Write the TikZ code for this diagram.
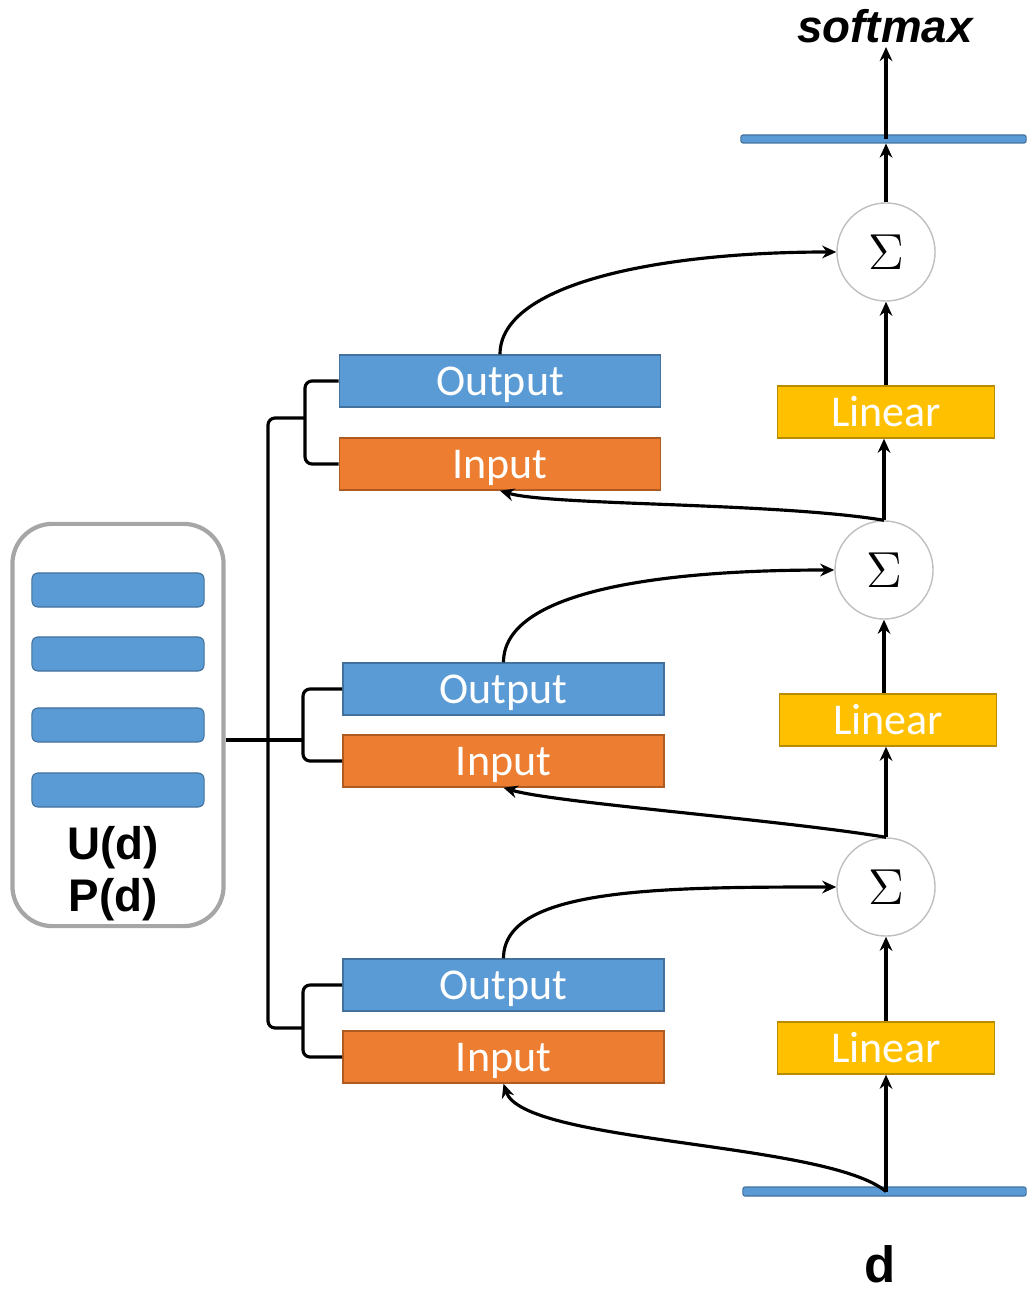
\documentclass[tikz,border=0pt]{standalone}
\usepackage{fontspec}
\setmainfont{Liberation Sans}
\newfontfamily\boxfont{Carlito}
\usetikzlibrary{arrows.meta, positioning}

\definecolor{hopblue}{HTML}{5B9BD5}
\definecolor{hopblueedge}{HTML}{41719C}
\definecolor{hoporange}{HTML}{ED7D31}
\definecolor{hoporangeedge}{HTML}{AE5A21}
\definecolor{hopgold}{HTML}{FFC000}
\definecolor{hopgoldedge}{HTML}{BC8C00}
\definecolor{memgray}{HTML}{A6A6A6}

\tikzset{
  layerbox/.style = {
    minimum width=3.21cm, minimum height=0.52cm, inner sep=0pt,
    text height=0.30cm, text depth=0.02cm,
    text=white, font=\boxfont\fontsize{12.5}{14}\selectfont
  },
  outbox/.style = {layerbox, draw=hopblueedge, fill=hopblue},
  inbox/.style = {layerbox, draw=hoporangeedge, fill=hoporange},
  linbox/.style = {layerbox, minimum width=2.17cm, draw=hopgoldedge, fill=hopgold},
  sumnode/.style = {circle, draw=black!25, minimum size=0.98cm, inner sep=0pt,
    font=\fontsize{14}{16}\selectfont},
  vecbar/.style = {draw=hopblueedge, fill=hopblue, rounded corners=0.02cm,
    minimum height=0.08cm, inner sep=0pt, line width=0.3pt},
  memslot/.style = {draw=hopblueedge, fill=hopblue, rounded corners=0.06cm,
    minimum width=1.72cm, minimum height=0.34cm, inner sep=0pt, line width=0.3pt},
  flow/.style = {-{Stealth[length=4pt, width=3.6pt]}, line width=0.9pt},
  wire/.style = {line width=0.9pt, rounded corners=2pt},
  biglabel/.style = {font=\bfseries\fontsize{13}{15}\selectfont, inner sep=1pt}
}

\begin{document}
\begin{tikzpicture}[x=0.01cm, y=0.01cm]
  \useasboundingbox (0,0) rectangle (1026,-1289);

  % Memory
  \node[draw=memgray, line width=1.2pt, rounded corners=0.4cm,
        minimum width=2.11cm, minimum height=4.02cm] (mem) at (118,-725) {};
  \node[memslot] (slot1) at (118,-590) {};
  \node[memslot] (slot2) at (118,-654) {};
  \node[memslot] (slot3) at (118,-725) {};
  \node[memslot] (slot4) at (118,-790) {};
  \node[biglabel, align=center, font=\bfseries\fontsize{13}{14.8}\selectfont]
    (memlabel) at (113,-874) {U(d)\\P(d)};

  % Hop 1 (top)
  \node[outbox] (out1) at (500,-381) {Output};
  \node[inbox] (in1) at (500,-464) {Input};
  \node[linbox] (lin1) at (886,-412) {Linear};
  \node[sumnode] (sig1) at (886,-252) {$\Sigma$};

  % Hop 2
  \node[outbox] (out2) at (503.5,-689) {Output};
  \node[inbox] (in2) at (503.5,-761) {Input};
  \node[linbox] (lin2) at (888,-720) {Linear};
  \node[sumnode] (sig2) at (884,-570) {$\Sigma$};

  % Hop 3 (bottom)
  \node[outbox] (out3) at (503.5,-985) {Output};
  \node[inbox] (in3) at (503.5,-1057) {Input};
  \node[linbox] (lin3) at (886,-1048) {Linear};
  \node[sumnode] (sig3) at (886,-887) {$\Sigma$};

  % Question and answer vectors
  \node[vecbar, minimum width=2.85cm] (topbar) at (883.5,-139) {};
  \node[vecbar, minimum width=2.83cm, minimum height=0.09cm] (botbar) at (884.5,-1191.5) {};
  \node[biglabel, font=\bfseries\itshape\fontsize{13}{15}\selectfont] (softmax) at (885,-26) {softmax};
  \node[biglabel, inner sep=0pt, font=\bfseries\fontsize{14.5}{16}\selectfont] (qlabel) at (880,-1264) {d};

  % Memory to the hops
  \coordinate (br1) at (305,-418);
  \coordinate (br2) at (303,-740);
  \coordinate (br3) at (303,-1028);
  \coordinate (trunktop) at (268,-418);
  \coordinate (trunkbot) at (268,-1028);
  \draw[wire] (out1.west) -| (br1) |- (in1.west);
  \draw[wire] (out2.west) -| (br2) |- (in2.west);
  \draw[wire] (out3.west) -| (br3) |- (in3.west);
  \draw[wire] (br1) -- (trunktop) -- (trunkbot) -- (br3);
  \draw[wire] (mem.east |- br2) -- (br2);

  % Vertical flow
  \coordinate (qpoint) at (lin3.south |- botbar.center);
  \draw[flow] (qpoint) -- (lin3.south);
  \draw[flow] (lin3.north) -- (sig3.south);
  \draw[flow] (sig3.north) -- (lin2.south -| sig3.north);
  \draw[flow] (lin2.north -| sig2.south) -- (sig2.south);
  \draw[flow] (sig2.north) -- (lin1.south -| sig2.north);
  \draw[flow] (lin1.north) -- (sig1.south);
  \draw[flow] (sig1.north) -- (sig1.north |- topbar.south);
  \draw[flow] (sig1.north |- topbar.center) -- (softmax.south -| sig1.north);

  % Into the input memories
  \draw[flow] (qpoint) .. controls +(-60,50) and +(20,-60) .. (in3.south);
  \draw[flow] (sig3.north) .. controls +(-110,18) and +(50,-15) .. (in2.south);
  \draw[flow] (sig2.north) .. controls +(-110,18) and +(50,-15) .. (in1.south);

  % Out of the output memories
  \draw[flow] (out3.north) .. controls +(0,70) and +(-180,0) .. (sig3.west);
  \draw[flow] (out2.north) .. controls +(0,70) and +(-180,0) .. (sig2.west);
  \draw[flow] (out1.north) .. controls +(0,70) and +(-180,0) .. (sig1.west);

\end{tikzpicture}
\end{document}
